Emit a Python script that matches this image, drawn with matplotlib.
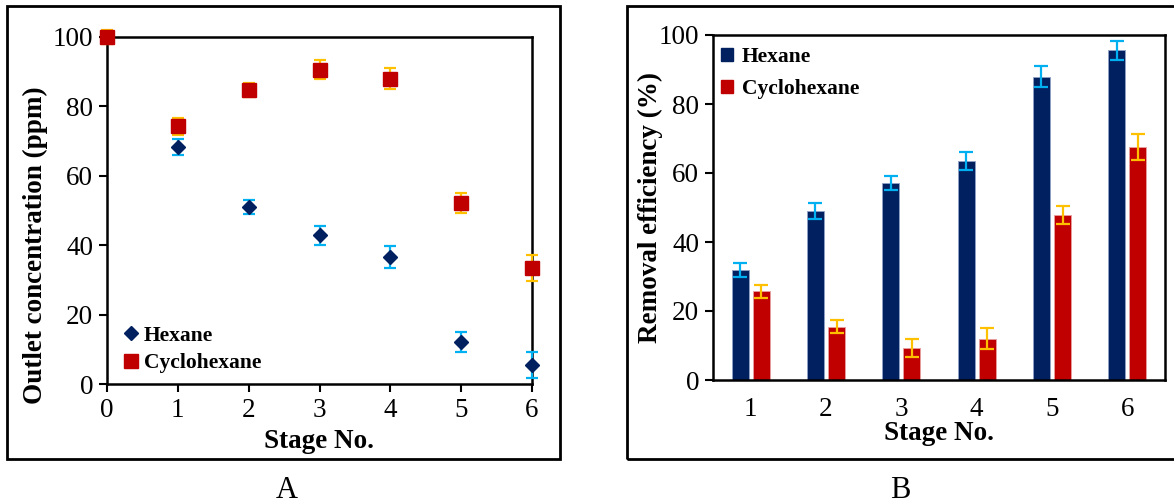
import numpy as np
import matplotlib
matplotlib.use("Agg")
import matplotlib.pyplot as plt
from matplotlib.patches import Rectangle, Patch
from matplotlib.lines import Line2D

plt.rcParams['font.family'] = ['Liberation Serif', 'DejaVu Serif']

# panel A - outlet concentration
stages_a = [0, 1, 2, 3, 4, 5, 6]
hex_conc = [100, 68.3, 50.9, 42.8, 36.6, 12.2, 5.4]
hex_conc_err = [0, 2.3, 2.0, 2.6, 3.1, 2.9, 3.8]
cyc_conc = [100, 74.3, 84.6, 90.6, 88.0, 52.2, 33.5]
cyc_conc_err = [2.0, 2.4, 2.0, 2.7, 3.1, 2.9, 3.7]

# panel B - removal efficiency
stages_b = [1, 2, 3, 4, 5, 6]
hex_eff = [31.8, 49.0, 57.1, 63.5, 87.9, 95.6]
hex_eff_err = [2.0, 2.4, 1.9, 2.6, 3.1, 2.8]
cyc_eff = [25.7, 15.5, 9.3, 12.0, 47.8, 67.6]
cyc_eff_err = [1.9, 2.0, 2.6, 3.0, 2.6, 3.7]

navy = '#002060'
red = '#C00000'
cyan = '#00B0F0'
gold = '#FFC000'

W, H = 1174, 503
fig = plt.figure(figsize=(W / 100, H / 100), dpi=100)

def fx(px):
    return px / W

def fy(py):
    return 1 - py / H

# outer frames
fig.patches.append(Rectangle((fx(7), fy(459)), fx(560) - fx(7), fy(6) - fy(459),
                             transform=fig.transFigure, fill=False, lw=2, ec='black'))
fig.patches.append(Rectangle((fx(627), fy(459)), fx(1185) - fx(627), fy(6) - fy(459),
                             transform=fig.transFigure, fill=False, lw=2, ec='black'))

tick_fs = 19.5
lab_fs = 19.5
leg_fs = 15.5

# ---- Panel A ----
axA = fig.add_axes([fx(107), fy(384), fx(532) - fx(107), fy(37) - fy(384)])
axA.errorbar(stages_a, hex_conc, yerr=hex_conc_err, fmt='D', ms=7, color=navy,
             ecolor=cyan, elinewidth=1.6, capsize=4.5, capthick=1.6, label='Hexane',
             clip_on=False, zorder=3)
axA.errorbar(stages_a, cyc_conc, yerr=cyc_conc_err, fmt='s', ms=10.5, color=red,
             ecolor=gold, elinewidth=1.6, capsize=4.5, capthick=1.6, label='Cyclohexane',
             clip_on=False, zorder=4)
axA.set_xlim(0, 6)
axA.set_ylim(0, 100)
axA.set_xticks(range(0, 7))
axA.set_yticks(range(0, 101, 20))
axA.tick_params(axis='both', direction='out', length=6, width=1.5, labelsize=tick_fs, pad=4)
for s in axA.spines.values():
    s.set_linewidth(1.8)
axA.set_xlabel('Stage No.', fontsize=lab_fs, fontweight='bold', va='center')
axA.set_ylabel('Outlet concentration (ppm)', fontsize=lab_fs, fontweight='bold', va='center')
axA.xaxis.set_label_coords(0.5, (384 - 441) / 347)
axA.yaxis.set_label_coords((35 - 107) / 425, (384 - 245) / 347)
hA = [Line2D([], [], marker='D', ls='', color=navy, ms=7),
      Line2D([], [], marker='s', ls='', color=red, ms=10.5)]
axA.legend(hA, ['Hexane', 'Cyclohexane'], loc='lower left', bbox_to_anchor=(-0.01, -0.025),
           frameon=False, prop={'weight': 'bold', 'size': leg_fs}, handlelength=0.8,
           handletextpad=0.2, labelspacing=0.35, borderaxespad=0.5)

# ---- Panel B ----
axB = fig.add_axes([fx(713), fy(380), fx(1165) - fx(713), fy(35) - fy(380)])
x = np.array(stages_b)
bw = 0.225
off = 0.14
axB.bar(x - off, hex_eff, bw, color=navy, edgecolor='#8FA3C8', linewidth=0.6, zorder=2)
axB.bar(x + off, cyc_eff, bw, color=red, edgecolor='#E8A0A0', linewidth=0.6, zorder=2)
axB.errorbar(x - off, hex_eff, yerr=hex_eff_err, fmt='none', ecolor=cyan,
             elinewidth=1.6, capsize=5, capthick=1.6, zorder=3)
axB.errorbar(x + off, cyc_eff, yerr=cyc_eff_err, fmt='none', ecolor=gold,
             elinewidth=1.6, capsize=5, capthick=1.6, zorder=3)
axB.set_xlim(0.5, 6.5)
axB.set_ylim(0, 100)
axB.set_xticks(stages_b)
axB.set_yticks(range(0, 101, 20))
axB.tick_params(axis='y', direction='out', length=6, width=1.5, labelsize=tick_fs, pad=4)
axB.tick_params(axis='x', length=0, labelsize=tick_fs, pad=12)
for s in axB.spines.values():
    s.set_linewidth(1.8)
axB.set_xlabel('Stage No.', fontsize=lab_fs, fontweight='bold', va='center')
axB.set_ylabel('Removal efficiency (%)', fontsize=lab_fs, fontweight='bold', va='center')
axB.xaxis.set_label_coords(0.5, (380 - 434) / 345)
axB.yaxis.set_label_coords((650 - 713) / 452, 0.5)
hB = [Patch(color=navy), Patch(color=red)]
axB.legend(hB, ['Hexane', 'Cyclohexane'], loc='upper left', bbox_to_anchor=(-0.02, 1.015),
           frameon=False, prop={'weight': 'bold', 'size': leg_fs}, handlelength=0.55,
           handleheight=0.55, handletextpad=0.4, labelspacing=0.55, borderaxespad=0.4)

fig.text(fx(287), fy(490), 'A', fontsize=22, ha='center', va='center')
fig.text(fx(900), fy(490), 'B', fontsize=22, ha='center', va='center')

fig.savefig('out.png', dpi=100)
